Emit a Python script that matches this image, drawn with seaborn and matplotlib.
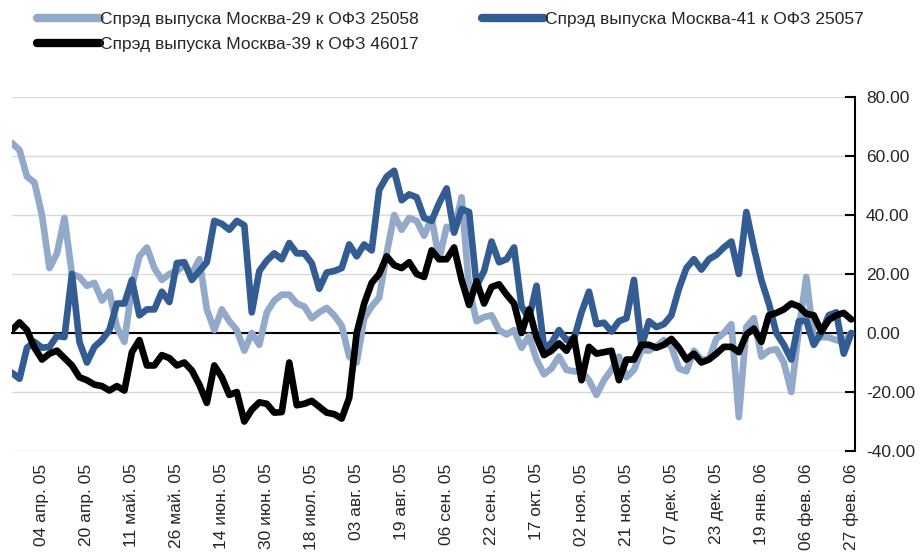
import numpy as np
import pandas as pd
import matplotlib
matplotlib.use("Agg")
import matplotlib.pyplot as plt
import seaborn as sns

################ DATA ################
# spreads, bp, sampled every 2nd trading day from 23 Mar 2005 to end Feb 2006
moscow29 = [64.4, 62, 53, 51, 40, 22, 27, 39, 20, 19, 16, 17, 11, 14, 2, -3,
            15.6, 26, 29, 22, 18, 20, 21, 23, 20, 25, 8, 1, 8, 4, 1, -6,
            0, -4, 7, 11, 13, 13, 10, 9, 5, 7, 8.5, 6, 2.5, -8, -10, 5,
            9, 12, 27, 40, 35, 39, 38, 33, 39, 25, 36, 35, 46, 15, 4, 5.4,
            6, 1, -0.5, 1, -5, -1, -9, -14, -12, -8, -12.5, -13, -13, -16, -21, -16,
            -12.5, -8, -15, -12.5, -5.8, -6, -4.5, -2.4, -4.7, -12, -13, -6, -9, -9, -2, 0,
            3, -28.5, 2, 5, -8, -6, -5.5, -10, -20, 1, 19, -2, -1.4, -1.5, -2.4, -3.2, 0]

moscow41 = [-13.5, -15.5, -5, -3, -5, -4.7, -1, -1.4, 20, -3, -10, -4.7, -2.4, 1, 10, 10,
            18, 6, 8, 8, 14, 10.5, 23.7, 24, 18, 21, 24, 38, 37, 35, 38, 36.5,
            7, 21, 24.5, 27, 25, 30.5, 27, 27, 23.7, 15, 20.5, 21, 22, 30, 26, 30,
            28, 48.5, 53, 55, 45, 47, 46, 39, 38, 44, 49, 34, 42, 41, 16, 21,
            31, 24, 25, 29, 9, 5, 16, -5, -3.4, 1, -2.4, -2, 7, 14, 3, 3.5,
            0.5, 4, 5, 18, -4.7, 4, 2, 3, 6, 15, 22, 25, 21.5, 25, 26.5, 29,
            31, 20, 41, 29, 18, 10, 0, -4, -9, 4, 4.2, -4, 0, 6, 7, -7, 0]

moscow39 = [1, 3.6, 1, -5, -9, -7, -6, -8.5, -11, -15, -16, -17.5, -18, -19.5, -18, -19.5,
            -6.5, -2.4, -11, -11, -7.5, -8.5, -11, -10, -12.7, -17.5, -23.7, -11, -15, -21, -20, -30,
            -26, -23.5, -24, -27, -26.8, -10, -24.5, -24, -23, -25, -27, -27.5, -29, -22, 0, 10,
            17, 20, 26, 23, 22, 24, 20, 19, 28, 25, 25, 29, 18, 9.5, 17.5, 10,
            15.6, 16.5, 13, 10, 0, 8, -1.5, -7.5, -6, -3.5, -6, -1.5, -16, -4.7, -7, -6.5,
            -6, -16, -9, -9, -4, -4, -5, -4, -2, -5, -9, -7, -10, -9, -7, -4.7,
            -4.7, -6.5, -0.5, 1.5, -3, 6, 6.8, 8, 10, 9, 6.5, 6, 0.5, 4.4, 6, 6.8, 4.6]

tick_labels = ["04 апр. 05", "20 апр. 05", "11 май. 05", "26 май. 05", "14 июн. 05",
               "30 июн. 05", "18 июл. 05", "03 авг. 05", "19 авг. 05", "06 сен. 05",
               "22 сен. 05", "17 окт. 05", "02 ноя. 05", "21 ноя. 05", "07 дек. 05",
               "23 дек. 05", "19 янв. 06", "06 фев. 06", "27 фев. 06"]

series_names = ["Спрэд выпуска Москва-29 к ОФЗ 25058",
                "Спрэд выпуска Москва-41 к ОФЗ 25057",
                "Спрэд выпуска Москва-39 к ОФЗ 46017"]

################ LONG FORMAT ################
day_idx = np.arange(len(moscow29)) * 2  # trading day index
df = pd.concat([
    pd.DataFrame({"day": day_idx, "spread": moscow29, "series": series_names[0]}),
    pd.DataFrame({"day": day_idx, "spread": moscow41, "series": series_names[1]}),
    pd.DataFrame({"day": day_idx, "spread": moscow39, "series": series_names[2]}),
])

colors = {series_names[0]: "#93A9CA", series_names[1]: "#335C93", series_names[2]: "#000000"}

################ PLOT ################
sns.set_style("white")
plt.rcParams['font.family'] = ['Liberation Sans', 'DejaVu Sans']
fs = 12.5

fig = plt.figure(figsize=(9.22, 5.52), dpi=100)
ax = fig.add_axes([12/922, 1 - 451/552, (855 - 12)/922, (451 - 97)/552])

for name in series_names:
    sns.lineplot(data=df[df["series"] == name], x="day", y="spread", color=colors[name],
                 lw=4.8, ax=ax, label=name, zorder=3,
                 solid_joinstyle="round", solid_capstyle="round")

ax.set_xlim(0, 225)
ax.set_ylim(-40, 80)
ax.set_xlabel("")
ax.set_ylabel("")

# y axis on the right
ax.yaxis.tick_right()
ax.set_yticks(np.arange(-40, 81, 20))
ax.set_yticklabels([f"{v:.2f}" for v in np.arange(-40, 81, 20)], fontsize=fs)
ax.tick_params(axis="y", direction="in", length=7, width=1.5, color="black", pad=8, right=True, left=False)
ax.grid(axis="y", color="#d9d9d9", lw=1)
ax.grid(axis="x", visible=False)

for s in ["left", "top"]:
    ax.spines[s].set_visible(False)
ax.spines["right"].set_color("black")
ax.spines["right"].set_linewidth(1.5)

# zero line with ticks, labels at bottom
tick_pos = 8 + 12 * np.arange(len(tick_labels))
ax.spines["bottom"].set_position(("data", 0))
ax.spines["bottom"].set_color("black")
ax.spines["bottom"].set_linewidth(1.5)
ax.spines["bottom"].set_zorder(2)
ax.set_xticks(tick_pos)
ax.set_xticklabels([])
ax.tick_params(axis="x", direction="out", length=5, width=1.5, color="black")

sec = ax.secondary_xaxis(0)
sec.set_xticks(tick_pos)
sec.set_xticklabels(tick_labels, rotation=90, fontsize=fs)
sec.tick_params(axis="x", length=0, pad=9)
sec.spines["bottom"].set_visible(False)

# legend: row1 = Москва-29, Москва-41 ; row2 = Москва-39
handles, labels = ax.get_legend_handles_labels()
ax.get_legend().remove()
order = [0, 2, 1]
leg = fig.legend([handles[i] for i in order], [labels[i] for i in order],
                 loc="upper left", bbox_to_anchor=(37/922, 1 - 12/552), ncol=2,
                 frameon=False, fontsize=fs, handlelength=3.6, handletextpad=0.05,
                 columnspacing=3.6, labelspacing=0.55, borderpad=0, borderaxespad=0)
for line in leg.get_lines():
    line.set_linewidth(6)
    line.set_solid_capstyle("round")

fig.savefig("out.png", dpi=100)
